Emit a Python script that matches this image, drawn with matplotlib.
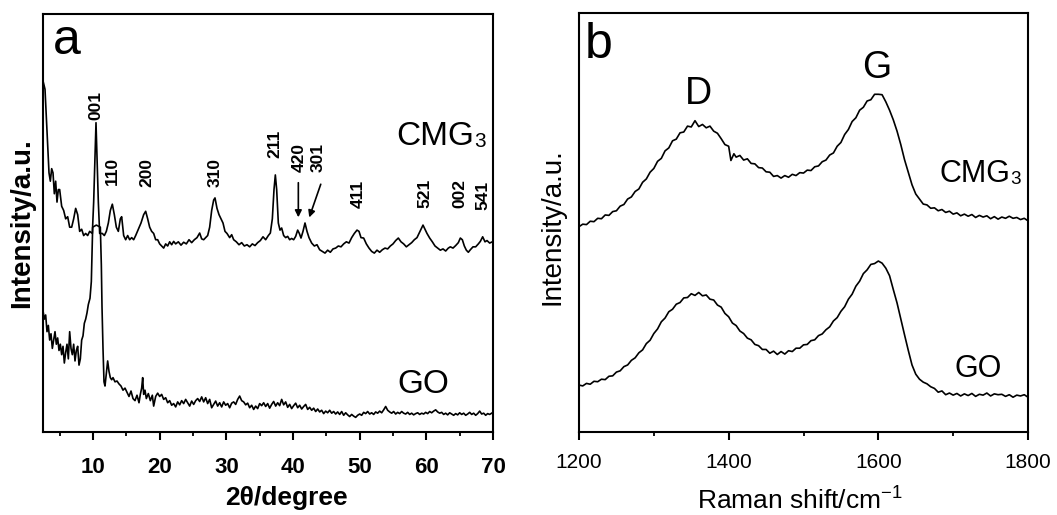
import matplotlib
matplotlib.use("Agg")
import matplotlib.pyplot as plt
from matplotlib.ticker import MultipleLocator

plt.rcParams['font.family'] = ['Liberation Sans', 'DejaVu Sans']
plt.rcParams['mathtext.fontset'] = 'custom'
plt.rcParams['mathtext.rm'] = 'Liberation Sans'

# ---------------- XRD data (2theta in degree, intensity a.u.) ----------------
xrd_cmg_x = [2.5, 2.8, 3.1, 3.4, 3.6, 3.8, 4.0, 4.2, 4.4, 4.6, 4.8, 5.0, 5.3, 5.6, 5.9, 6.2, 6.5, 6.8,
             7.1, 7.4, 7.7, 8.0, 8.3, 8.6, 8.9, 9.2, 9.5, 9.9, 10.1, 10.45, 10.8, 11.0, 11.4, 11.7, 12.0,
             12.3, 12.6, 12.9, 13.2, 13.5, 13.8, 14.1, 14.3, 14.6, 14.9, 15.2, 15.5, 15.8, 16.1, 16.4,
             16.8, 17.2, 17.6, 17.9, 18.2, 18.5, 18.8, 19.1, 19.4, 19.7, 20.0, 20.3, 20.6, 20.9, 21.2,
             21.5, 21.8, 22.1, 22.4, 22.8, 23.2, 23.6, 24.0, 24.4, 24.8, 25.2, 25.6, 26.0, 26.3, 26.6,
             26.9, 27.2, 27.5, 27.8, 28.1, 28.3, 28.6, 28.9, 29.2, 29.5, 29.8, 30.1, 30.5, 30.8, 31.1,
             31.5, 31.9, 32.3, 32.7, 33.1, 33.5, 33.9, 34.3, 34.7, 35.1, 35.5, 35.9, 36.3, 36.6, 36.9,
             37.15, 37.35, 37.55, 37.8, 38.05, 38.3, 38.6, 38.9, 39.2, 39.5, 39.8, 40.1, 40.4, 40.7,
             40.95, 41.2, 41.5, 41.8, 42.1, 42.4, 42.8, 43.2, 43.6, 44.0, 44.4, 44.8, 45.2, 45.6, 46.0,
             46.4, 46.8, 47.2, 47.6, 48.0, 48.4, 48.8, 49.2, 49.6, 49.9, 50.2, 50.6, 51.0, 51.4, 51.8,
             52.2, 52.6, 53.0, 53.4, 53.8, 54.2, 54.6, 55.0, 55.4, 55.8, 56.2, 56.6, 57.0, 57.4, 57.8,
             58.2, 58.6, 58.9, 59.2, 59.5, 59.8, 60.1, 60.5, 60.9, 61.3, 61.7, 62.1, 62.5, 62.9, 63.3,
             63.6, 64.0, 64.4, 64.8, 65.1, 65.4, 65.7, 66.0, 66.3, 66.6, 67.0, 67.4, 67.8, 68.1, 68.45,
             68.8, 69.1, 69.5, 69.9]
xrd_cmg_y = [84, 82, 72, 62, 60, 63, 62, 57, 60, 55, 58, 58, 54, 53, 51, 51.5, 49, 49,
             51, 53.5, 52, 48, 48.5, 47, 47.5, 47, 48, 47.5, 55, 74, 55, 47.5, 47.5, 47, 48,
             50, 53, 54.5, 52, 49, 48, 51, 51.5, 47, 46, 47, 46, 46.5, 46, 47,
             48.5, 50, 52, 52.8, 51, 49, 48, 47.5, 46, 46, 45, 44.5, 44, 45, 44.5,
             45.5, 44.8, 45.6, 45, 45.5, 44.7, 45.4, 45, 46, 45.3, 46, 46.5, 47.6, 46.2, 46,
             46.5, 47, 49, 53, 55.5, 56, 53.5, 52, 51, 50, 48, 47.5, 46.5, 47.2, 46,
             45.5, 44.8, 45.3, 44.5, 44.8, 44.3, 45, 44.6, 45.3, 45.8, 46.7, 46, 47, 47.6, 51,
             58, 61.5, 58, 50, 48.3, 48.8, 47, 46.5, 46.8, 46, 46.3, 46, 46.8, 48.3,
             47.5, 46.4, 48, 50, 48, 46.5, 45.2, 44.5, 44.8, 43.6, 43.2, 42.8, 43.5, 43, 43.8,
             44, 44.5, 44.3, 45, 45.5, 45.2, 46.5, 47.5, 48.3, 48, 46.5, 46.4, 45, 44, 43.2,
             42.8, 43.5, 43, 43.6, 44, 43.8, 44.5, 45, 45.8, 46.4, 45.5, 45, 44.3, 44.8, 45.3,
             46, 46.5, 47.5, 48.5, 49.5, 48.5, 47.5, 46.4, 45.5, 44.5, 44, 43.5, 43.8, 43.3, 44,
             44.3, 44, 44.6, 45.3, 46.4, 46, 44.5, 43.5, 43, 43.6, 44.3, 44.3, 45, 45.6, 46.7,
             45.5, 45.8, 45.2, 45.5]

xrd_go_x = [2.5, 2.7, 2.9, 3.1, 3.3, 3.5, 3.7, 3.9, 4.1, 4.3, 4.5, 4.7, 4.9, 5.1, 5.3, 5.5, 5.7, 5.9,
            6.1, 6.3, 6.5, 6.7, 6.9, 7.1, 7.3, 7.5, 7.7, 7.9, 8.1, 8.3, 8.5, 8.7, 8.9, 9.1, 9.3, 9.55,
            9.75, 9.85, 9.95, 10.5, 11.1, 11.25, 11.35, 11.5, 11.65, 11.8, 12.0, 12.2, 12.4, 12.6,
            12.8, 13.0, 13.3, 13.6, 13.9, 14.2, 14.5, 14.8, 15.1, 15.4, 15.7, 16.0, 16.3, 16.6, 16.9,
            17.1, 17.3, 17.45, 17.6, 17.8, 18.0, 18.3, 18.6, 18.9, 19.1, 19.4, 19.7, 20.0, 20.3, 20.6,
            20.9, 21.2, 21.5, 21.8, 22.1, 22.4, 22.7, 23.0, 23.3, 23.6, 23.9, 24.2, 24.5, 24.8, 25.1,
            25.4, 25.7, 26.0, 26.3, 26.6, 26.9, 27.2, 27.5, 27.8, 28.1, 28.4, 28.7, 29.0, 29.3, 29.6,
            29.9, 30.2, 30.5, 30.8, 31.1, 31.4, 31.7, 32.0, 32.3, 32.6, 32.9, 33.2, 33.5, 33.8, 34.1,
            34.4, 34.7, 35.0, 35.3, 35.6, 35.9, 36.2, 36.5, 36.8, 37.1, 37.4, 37.7, 38.0, 38.3, 38.6,
            38.9, 39.2, 39.5, 39.8, 40.1, 40.4, 40.7, 41.0, 41.3, 41.6, 41.9, 42.2, 42.5, 42.8, 43.1,
            43.4, 43.7, 44.0, 44.3, 44.6, 44.9, 45.2, 45.5, 45.8, 46.1, 46.4, 46.7, 47.0, 47.3, 47.6,
            47.9, 48.2, 48.5, 48.8, 49.1, 49.4, 49.7, 50.0, 50.3, 50.6, 50.9, 51.2, 51.5, 51.8, 52.1,
            52.4, 52.7, 53.0, 53.3, 53.6, 53.9, 54.2, 54.5, 54.8, 55.1, 55.4, 55.7, 56.0, 56.3, 56.6,
            56.9, 57.2, 57.5, 57.8, 58.1, 58.4, 58.7, 59.0, 59.3, 59.6, 59.9, 60.2, 60.5, 60.8, 61.1,
            61.4, 61.7, 62.0, 62.3, 62.6, 62.9, 63.2, 63.5, 63.8, 64.1, 64.4, 64.7, 65.0, 65.3, 65.6,
            65.9, 66.2, 66.5, 66.8, 67.1, 67.4, 67.7, 68.0, 68.3, 68.6, 68.9, 69.2, 69.5, 69.9]
xrd_go_y = [29, 27, 28, 24, 25.5, 22, 23.5, 20, 22, 24, 21, 22.5, 19.5, 21, 18.5, 20.5, 16.5, 19,
            21, 17.5, 24, 20, 18.5, 21, 17, 19.5, 20.5, 16, 17.5, 22, 23, 26, 27, 28.5, 30.5, 32,
            36, 43, 49, 49.5, 49, 40, 30, 20, 12, 11, 14, 17, 14.5, 13,
            12.5, 13, 12, 12.2, 11.5, 11, 10, 10.5, 9.5, 8.5, 9.8, 8, 7.5, 8.8, 7,
            9, 10.5, 13, 9, 10, 8, 9.2, 7.5, 8.8, 6.2, 8.5, 9.3, 8.5, 9, 7.8,
            8.2, 7, 7.5, 6.4, 6.8, 6, 7.2, 6.5, 7.5, 6.8, 7.8, 7, 6.2, 7.4, 6.6,
            7.5, 8, 7.3, 8.4, 7.2, 8.2, 6.8, 7.8, 5.8, 6.6, 7.4, 6.2, 7, 6, 7.2,
            6.4, 6.8, 5.8, 6.9, 7.2, 6.6, 7.8, 8.6, 7.5, 7.2, 6.5, 6.9, 5.8, 6.4, 5.4,
            6.2, 5.6, 6.8, 6.3, 7, 6.1, 6.8, 5.7, 6.6, 7.3, 6.2, 7, 6.3, 7.8, 6.5,
            7.2, 5.9, 6.6, 5.6, 6.3, 6.9, 5.8, 6.4, 5.5, 6.1, 6.6, 5.4, 5.9, 5.2, 5.7,
            4.9, 5.5, 4.8, 5.2, 4.4, 5, 4.6, 5.2, 4.5, 4.9, 4.3, 4.8, 4.2, 4.9, 4.0,
            4.6, 4.1, 3.7, 4.2, 3.8, 3.5, 4, 4.3, 4.0, 4.7, 4.4, 4.9, 4.3, 4.6, 4.2,
            4.8, 4.5, 5, 4.6, 5.3, 6.1, 5.2, 4.8, 4.5, 4.9, 4.3, 4.7, 4.4, 4.9, 4.5,
            4.3, 4.7, 4.2, 4.5, 4.1, 4.4, 4.6, 4.2, 4.5, 4.3, 4.7, 4.4, 4.9, 4.6, 5,
            5.3, 4.8, 4.5, 4.7, 4.2, 4.5, 4.1, 4.6, 4.3, 4.0, 4.4, 4.1, 4.6, 4.2, 4.5,
            4.0, 4.3, 4.7, 4.2, 4.5, 4.0, 4.4, 5, 4.3, 4.5, 4.0, 4.4, 4.2, 4.6]

# peak indices (label, 2theta position, label bottom height)
peak_labels = ['001', '110', '200', '310', '211', '420', '301', '411', '521', '002', '541']
peak_x = [10.45, 12.85, 18.1, 28.3, 37.3, 40.9, 43.7, 49.75, 59.8, 65.05, 68.5]
peak_y = [74.6, 59.1, 58.6, 58.6, 65.6, 62.2, 62.2, 53.6, 53.6, 53.6, 53.1]

# ---------------- Raman data (cm-1, intensity a.u.) ----------------
raman_cmg_x = [1200, 1205, 1210, 1215, 1220, 1225, 1230, 1235, 1240, 1245, 1250, 1255, 1260, 1265,
               1270, 1275, 1280, 1285, 1290, 1295, 1300, 1305, 1310, 1315, 1320, 1325, 1330, 1335,
               1340, 1345, 1350, 1355, 1360, 1365, 1370, 1375, 1380, 1385, 1390, 1395, 1400, 1403,
               1407, 1410, 1415, 1420, 1425, 1430, 1435, 1440, 1445, 1450, 1455, 1460, 1465, 1470,
               1475, 1480, 1485, 1490, 1495, 1500, 1505, 1510, 1515, 1520, 1525, 1530, 1535, 1540,
               1545, 1550, 1555, 1560, 1565, 1570, 1575, 1580, 1585, 1590, 1595, 1600, 1605, 1610,
               1615, 1620, 1625, 1630, 1635, 1640, 1645, 1650, 1655, 1660, 1665, 1670, 1675, 1680,
               1685, 1690, 1695, 1700, 1705, 1710, 1715, 1720, 1725, 1730, 1735, 1740, 1745, 1750,
               1755, 1760, 1765, 1770, 1775, 1780, 1785, 1790, 1795, 1800]
raman_cmg = [49.0, 49.6, 49.5, 50.3, 50.2, 51.0, 50.9, 51.8, 51.7, 52.6, 52.8, 53.9, 54.3, 55.6,
             56.1, 57.4, 58.0, 59.6, 60.4, 62.0, 62.9, 64.6, 65.3, 67.1, 67.8, 69.5, 69.9, 71.4,
             71.6, 73.0, 72.8, 74.3, 72.9, 73.4, 72.6, 73.0, 71.8, 71.3, 70.0, 68.6, 68.2, 64.8,
             66.4, 65.6, 66.0, 64.9, 65.2, 64.1, 64.0, 63.1, 63.0, 62.1, 62.0, 61.0, 61.2, 60.6,
             61.2, 60.8, 61.5, 61.2, 61.9, 61.8, 62.5, 62.4, 63.3, 63.5, 64.5, 64.9, 66.1, 66.6,
             68.2, 69.1, 71.0, 72.2, 74.1, 75.0, 76.8, 77.5, 79.0, 79.3, 80.6, 80.6, 80.5, 78.8,
             76.8, 74.5, 71.8, 68.6, 65.0, 62.0, 59.0, 56.8, 55.6, 54.4, 54.2, 53.4, 53.5, 52.8,
             53.1, 52.4, 52.7, 52.0, 52.3, 51.6, 52.0, 51.5, 51.9, 51.2, 51.7, 51.3, 51.6, 50.9,
             51.4, 50.8, 51.3, 51.0, 51.5, 51.0, 51.2, 50.7, 51.0, 50.4]

raman_go_x = list(range(1200, 1805, 5))
raman_go = [11.2, 11.0, 11.6, 11.4, 12.1, 12.0, 12.6, 12.5, 13.3, 13.4, 14.3, 14.6, 15.6, 16.0,
            17.1, 17.7, 18.9, 19.6, 21.1, 21.9, 23.5, 24.6, 26.3, 27.2, 28.7, 29.3, 30.5, 30.9,
            32.0, 32.1, 33.0, 32.6, 33.3, 32.5, 32.7, 31.7, 31.5, 30.3, 29.8, 28.3, 27.5, 26.0,
            25.4, 24.1, 23.5, 22.4, 22.0, 20.9, 20.6, 19.7, 19.7, 18.8, 19.3, 18.5, 19.2, 18.6,
            19.4, 19.2, 20.0, 20.0, 20.8, 20.9, 21.8, 22.0, 23.0, 23.4, 24.4, 25.1, 26.5, 27.3,
            28.8, 29.9, 31.7, 32.9, 34.8, 36.0, 37.8, 38.7, 40.0, 40.2, 40.8, 40.3, 39.1, 37.3,
            34.0, 30.8, 27.0, 23.2, 19.5, 16.0, 13.8, 12.6, 11.9, 11.5, 10.8, 10.4, 9.5, 9.8,
            8.9, 9.3, 8.8, 9.2, 8.6, 9.1, 8.7, 9.2, 8.5, 9.0, 8.8, 9.3, 8.6, 9.1, 8.9, 9.0,
            8.5, 8.9, 8.3, 8.8, 8.6, 8.9, 8.3]

xrd_ticks = [10, 20, 30, 40, 50, 60, 70]
raman_ticks = [1200, 1400, 1600, 1800]

# ---------------- figure ----------------
W, H = 1057, 515
fig = plt.figure(figsize=(W / 100, H / 100), dpi=100)
ax1 = fig.add_axes([43 / W, 1 - 432 / H, 450 / W, 418 / H])
ax2 = fig.add_axes([579 / W, 1 - 432 / H, 449 / W, 419 / H])

lw = 1.2
ax1.plot(xrd_go_x, xrd_go_y, color='black', lw=lw)
ax1.plot(xrd_cmg_x, xrd_cmg_y, color='black', lw=lw)
ax2.plot(raman_go_x, raman_go, color='black', lw=lw)
ax2.plot(raman_cmg_x, raman_cmg, color='black', lw=lw)

ax1.set_xlim(2.5, 70)
ax1.set_ylim(0, 100)
ax2.set_xlim(1200, 1800)
ax2.set_ylim(0, 100)

for ax in (ax1, ax2):
    for s in ax.spines.values():
        s.set_linewidth(1.5)
    ax.set_yticks([])
    ax.tick_params(axis='x', which='major', direction='out', length=6, width=1.5)
    ax.tick_params(axis='x', which='minor', direction='out', length=3, width=1.3)

ax1.set_xticks(xrd_ticks)
ax1.xaxis.set_minor_locator(MultipleLocator(5))
ax1.tick_params(axis='x', which='major', pad=12, labelsize=16)
for t in ax1.get_xticklabels():
    t.set_fontweight('bold')

ax2.set_xticks(raman_ticks)
ax2.xaxis.set_minor_locator(MultipleLocator(100))
ax2.tick_params(axis='x', which='major', pad=9, labelsize=15)

# axis labels
ax1.set_xlabel('2θ/degree', fontsize=19, fontweight='bold', va='top')
ax1.xaxis.set_label_coords((286 - 43) / 450, -54 / 418)
ax1.set_ylabel('Intensity/a.u.', fontsize=20, fontweight='bold', va='center')
ax1.yaxis.set_label_coords((22 - 43) / 450, 0.5)

ax2.set_xlabel('Raman shift/cm$^{\\mathregular{-1}}$', fontsize=19, va='top')
ax2.xaxis.set_label_coords((800 - 579) / 449, -54 / 419)
ax2.set_ylabel('Intensity/a.u.', fontsize=20, va='center')
ax2.yaxis.set_label_coords((552 - 579) / 449, 0.49)


def label_with_sub(ax, x, y, main, sub, size):
    t = ax.text(x, y, main, fontsize=size, ha='left', va='baseline')
    ax.annotate(sub, xy=(1, 0), xycoords=t, fontsize=size * 0.62,
                ha='left', va='bottom', xytext=(0, 0.5), textcoords='offset points')


# panel letters and series labels
ax1.text(4.0, 90.5, 'a', fontsize=36, ha='left', va='baseline')
label_with_sub(ax1, 55.5, 68.7, 'CMG', '3', 24)
ax1.text(55.6, 9.3, 'GO', fontsize=24, ha='left', va='baseline')

for lab, px, py in zip(peak_labels, peak_x, peak_y):
    ax1.text(px, py, lab, rotation=90, fontsize=12.5, fontweight='bold', ha='center', va='bottom')

ax1.annotate('', xy=(40.8, 50.7), xytext=(40.8, 60.3),
             arrowprops=dict(arrowstyle='-|>', color='black', lw=1.2, mutation_scale=10))
ax1.annotate('', xy=(42.3, 50.7), xytext=(44.3, 59.9),
             arrowprops=dict(arrowstyle='-|>', color='black', lw=1.2, mutation_scale=10))

ax2.text(1208, 89.3, 'b', fontsize=36, ha='left', va='baseline')
ax2.text(1341.6, 78.3, 'D', fontsize=27, ha='left', va='baseline')
ax2.text(1578, 84.5, 'G', fontsize=27, ha='left', va='baseline')
label_with_sub(ax2, 1682, 59.7, 'CMG', '3', 22)
ax2.text(1702, 13.1, 'GO', fontsize=22, ha='left', va='baseline')

fig.savefig('out.png', dpi=100)
